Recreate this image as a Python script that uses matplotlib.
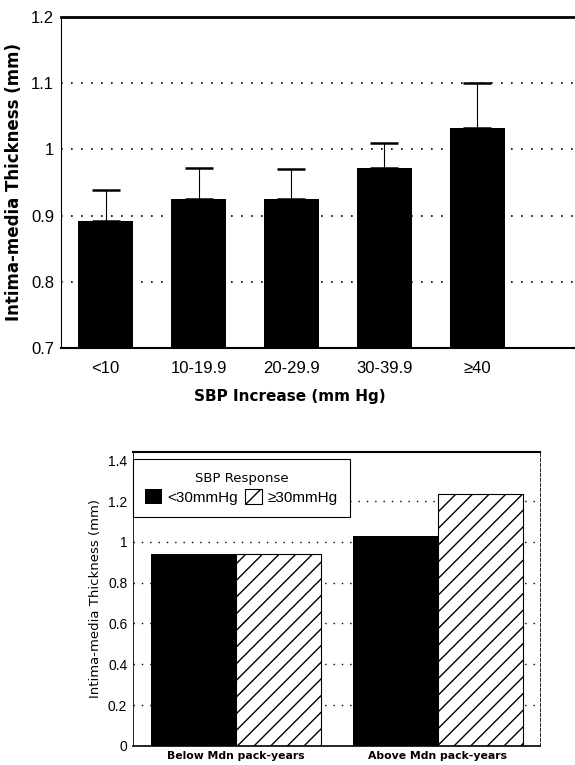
import matplotlib
matplotlib.use("Agg")
import matplotlib.pyplot as plt
import numpy as np

plt.rcParams["font.family"] = ["Liberation Sans", "DejaVu Sans"]
plt.rcParams["hatch.linewidth"] = 1.0

# top chart data
sbp_groups = ["<10", "10-19.9", "20-29.9", "30-39.9", "≥40"]
imt_means = [0.892, 0.925, 0.925, 0.972, 1.032]
imt_err = [0.046, 0.047, 0.046, 0.038, 0.068]

# bottom chart data
pack_groups = ["Below Mdn pack-years", "Above Mdn pack-years"]
low_resp = [0.94, 1.028]
high_resp = [0.94, 1.236]

fig = plt.figure(figsize=(5.75, 7.65), dpi=100)

# ---------top chart----------
ax1 = fig.add_axes([0.106, 0.545, 0.894, 0.433])
x = np.arange(len(sbp_groups))
ax1.bar(x, imt_means, width=0.6, color="black", zorder=2)
ax1.errorbar(x, imt_means, yerr=[np.zeros(len(imt_err)), imt_err], fmt="none",
             ecolor="black", elinewidth=0.8, capsize=10, capthick=1.8, zorder=3)
ax1.set_ylim(0.7, 1.2)
ax1.set_xlim(-0.48, 5.05)
ax1.set_yticks([0.7, 0.8, 0.9, 1.0, 1.1, 1.2])
ax1.set_yticklabels(["0.7", "0.8", "0.9", "1", "1.1", "1.2"])
ax1.set_xticks(x)
ax1.set_xticklabels(sbp_groups)
for v in [0.8, 0.9, 1.0, 1.1]:
    ax1.axhline(v, color="black", linestyle=(0, (1, 5)), linewidth=1.2, zorder=1)
ax1.tick_params(axis="both", labelsize=12, length=0, pad=5)
ax1.tick_params(axis="x", pad=9)
ax1.spines["top"].set_linewidth(2)
ax1.spines["bottom"].set_linewidth(1.5)
ax1.spines["left"].set_linewidth(0.8)
ax1.spines["right"].set_visible(False)
ax1.set_ylabel("Intima-media Thickness (mm)", fontsize=12, fontweight="bold",
               family=["DejaVu Sans"], labelpad=6)
ax1.set_xlabel("SBP Increase (mm Hg)", fontsize=11, fontweight="bold",
               family=["DejaVu Sans"])
ax1.xaxis.set_label_coords(0.445, -0.125)

# ---------bottom chart----------
ax2 = fig.add_axes([0.231, 0.025, 0.708, 0.384])
g = np.arange(len(pack_groups))
w = 0.42
ax2.bar(g - w / 2, low_resp, width=w, color="black", label="<30mmHg", zorder=2)
ax2.bar(g + w / 2, high_resp, width=w, facecolor="white", edgecolor="black",
        hatch="//", linewidth=0.8, label="≥30mmHg", zorder=2)
for v in [0.2, 0.4, 0.6, 0.8, 1.0, 1.2]:
    ax2.axhline(v, color="black", linestyle=(0, (1, 5)), linewidth=1.0, zorder=1)
ax2.set_ylim(0, 1.44)
ax2.set_xlim(-0.51, 1.505)
ax2.set_yticks([0, 0.2, 0.4, 0.6, 0.8, 1.0, 1.2, 1.4])
ax2.set_yticklabels(["0", "0.2", "0.4", "0.6", "0.8", "1", "1.2", "1.4"])
ax2.set_xticks(g)
ax2.set_xticklabels(pack_groups, fontsize=7.8, fontweight="bold",
                    family=["DejaVu Sans"])
ax2.tick_params(axis="y", labelsize=10, length=0, pad=4)
ax2.tick_params(axis="x", length=0, pad=4)
ax2.spines["top"].set_linewidth(1.5)
ax2.spines["bottom"].set_linewidth(1.2)
ax2.spines["left"].set_linewidth(0.6)
ax2.spines["right"].set_linewidth(0.6)
ax2.spines["right"].set_linestyle((0, (4, 2)))
ax2.set_ylabel("Intima-media Thickness (mm)", fontsize=9.5,
               family=["DejaVu Sans"], labelpad=4)

leg = ax2.legend(title="SBP Response", ncol=2, loc="upper left",
                 bbox_to_anchor=(0, 0.975), borderaxespad=0, fontsize=11,
                 title_fontsize=9.5, handlelength=1.1, handleheight=1.1,
                 handletextpad=0.35, columnspacing=0.5, fancybox=False,
                 framealpha=1, edgecolor="black", borderpad=0.8,
                 labelspacing=0.3)
leg.get_frame().set_linewidth(0.8)
leg.get_title().set_family(["DejaVu Sans"])

fig.savefig("out.png", dpi=100)
plt.close(fig)
